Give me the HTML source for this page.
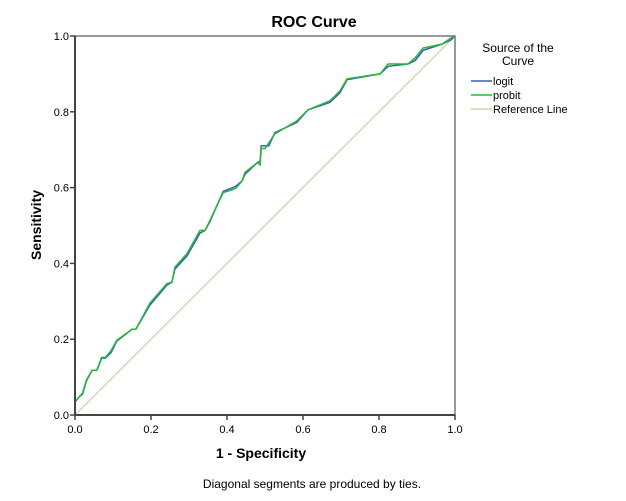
<!DOCTYPE html>
<html><head><meta charset="utf-8"><style>
html,body{margin:0;padding:0;background:#fff;}
svg{display:block;font-family:"Liberation Sans",Arial,sans-serif;}
</style></head><body>
<svg id="chart" width="626" height="501" viewBox="0 0 626 501">
<rect x="0" y="0" width="626" height="501" fill="#fff"/>
<text x="314" y="27" text-anchor="middle" font-size="16" font-weight="bold">ROC Curve</text>
<g id="plot"></g>
<g id="axes"></g>
<text x="261" y="458" text-anchor="middle" font-size="14" font-weight="bold">1 - Specificity</text>
<text transform="translate(41,225) rotate(-90)" text-anchor="middle" font-size="14" font-weight="bold">Sensitivity</text>
<text x="312" y="488" text-anchor="middle" font-size="12">Diagonal segments are produced by ties.</text>
<g>
<text x="518" y="52" text-anchor="middle" font-size="12">Source of the</text>
<text x="518" y="65" text-anchor="middle" font-size="12">Curve</text>
<g><line x1="471" y1="81" x2="492" y2="81" stroke="#3b5bbf" stroke-width="1.5"/><text x="493" y="85" font-size="11">logit</text></g>
<g><line x1="471" y1="95" x2="492" y2="95" stroke="#22bb33" stroke-width="1.5"/><text x="493" y="99" font-size="11">probit</text></g>
<g><line x1="471" y1="109" x2="492" y2="109" stroke="#d9d4b0" stroke-width="1.5"/><text x="493" y="113" font-size="11">Reference Line</text></g>
</g>
</svg>
<script>
const xTicks = [0, 0.2, 0.4, 0.6, 0.8, 1.0];
const yTicks = [0, 0.2, 0.4, 0.6, 0.8, 1.0];
const tickLabels = ["0.0", "0.2", "0.4", "0.6", "0.8", "1.0"];
const probitX = [0,0,0.005,0.013,0.02,0.03,0.045,0.057,0.062,0.07,0.08,0.095,0.11,0.15,0.16,0.197,0.242,0.255,0.263,0.295,0.329,0.342,0.355,0.39,0.416,0.425,0.44,0.447,0.48,0.487,0.49,0.5,0.526,0.584,0.613,0.671,0.697,0.716,0.803,0.824,0.876,0.895,0.916,0.966,0.99,1];
const probitY = [0,0.04,0.04,0.05,0.058,0.092,0.118,0.118,0.13,0.152,0.152,0.17,0.197,0.226,0.226,0.295,0.347,0.35,0.39,0.426,0.487,0.487,0.513,0.587,0.595,0.6,0.618,0.64,0.666,0.66,0.703,0.703,0.742,0.776,0.805,0.829,0.855,0.887,0.9,0.926,0.926,0.942,0.968,0.979,0.995,1];
const logitX = [0,0,0.005,0.013,0.02,0.03,0.045,0.057,0.062,0.07,0.08,0.095,0.11,0.15,0.16,0.197,0.242,0.255,0.263,0.295,0.329,0.342,0.355,0.39,0.416,0.425,0.44,0.447,0.48,0.487,0.49,0.51,0.526,0.584,0.613,0.671,0.697,0.716,0.803,0.824,0.876,0.895,0.916,0.966,0.99,1];
const logitY = [0,0.035,0.04,0.05,0.055,0.09,0.118,0.118,0.128,0.15,0.15,0.165,0.195,0.226,0.226,0.29,0.343,0.35,0.385,0.42,0.48,0.487,0.51,0.59,0.6,0.605,0.618,0.635,0.666,0.67,0.71,0.71,0.745,0.772,0.805,0.825,0.85,0.885,0.9,0.92,0.926,0.935,0.962,0.979,0.99,1];
const refX = [0, 1];
const refY = [0, 1];

const X0 = 75, X1 = 455, Y0 = 415, Y1 = 36;
function sx(v){ return X0 + v * (X1 - X0); }
function sy(v){ return Y0 - v * (Y0 - Y1); }
const NS = "http://www.w3.org/2000/svg";
const plot = document.getElementById('plot');
const axes = document.getElementById('axes');

function mk(tag, attrs, parent){
  const e = document.createElementNS(NS, tag);
  for (const k in attrs) e.setAttribute(k, attrs[k]);
  parent.appendChild(e);
  return e;
}
function pts(xs, ys){ return xs.map((x,i)=>sx(x).toFixed(1)+','+sy(ys[i]).toFixed(1)).join(' '); }

const ref = mk('polyline', {points: pts(refX, refY), fill:'none', stroke:'#d9d4b0', 'stroke-width':1.5}, plot);


const lg = mk('polyline', {points: pts(logitX, logitY), fill:'none', stroke:'#3b5bbf', 'stroke-width':1.5}, plot);


const pb = mk('polyline', {points: pts(probitX, probitY), fill:'none', stroke:'#22bb33', 'stroke-width':1.5}, plot);



// frame
const fr = mk('rect', {x:X0, y:Y1, width:X1-X0, height:Y0-Y1, fill:'none', stroke:'#777', 'stroke-width':1.5}, axes);


const xa = mk('line', {x1:X0, y1:Y0, x2:X1, y2:Y0, stroke:'#444', 'stroke-width':2}, axes);


const ya = mk('line', {x1:X0, y1:Y0, x2:X0, y2:Y1, stroke:'#444', 'stroke-width':2}, axes);



xTicks.forEach((t,i)=>{
  const l = mk('line', {x1:sx(t), y1:Y0, x2:sx(t), y2:Y0+5, stroke:'#444', 'stroke-width':1.5}, axes);
  
  
  const tx = mk('text', {x:sx(t), y:Y0+18, 'text-anchor':'middle', 'font-size':11}, axes);
  tx.textContent = tickLabels[i];
  
  
});
yTicks.forEach((t,i)=>{
  const l = mk('line', {x1:X0-5, y1:sy(t), x2:X0, y2:sy(t), stroke:'#444', 'stroke-width':1.5}, axes);
  
  
  const tx = mk('text', {x:X0-6, y:sy(t)+4, 'text-anchor':'end', 'font-size':11}, axes);
  tx.textContent = tickLabels[i];
  
  
});
</script>
</body></html>
